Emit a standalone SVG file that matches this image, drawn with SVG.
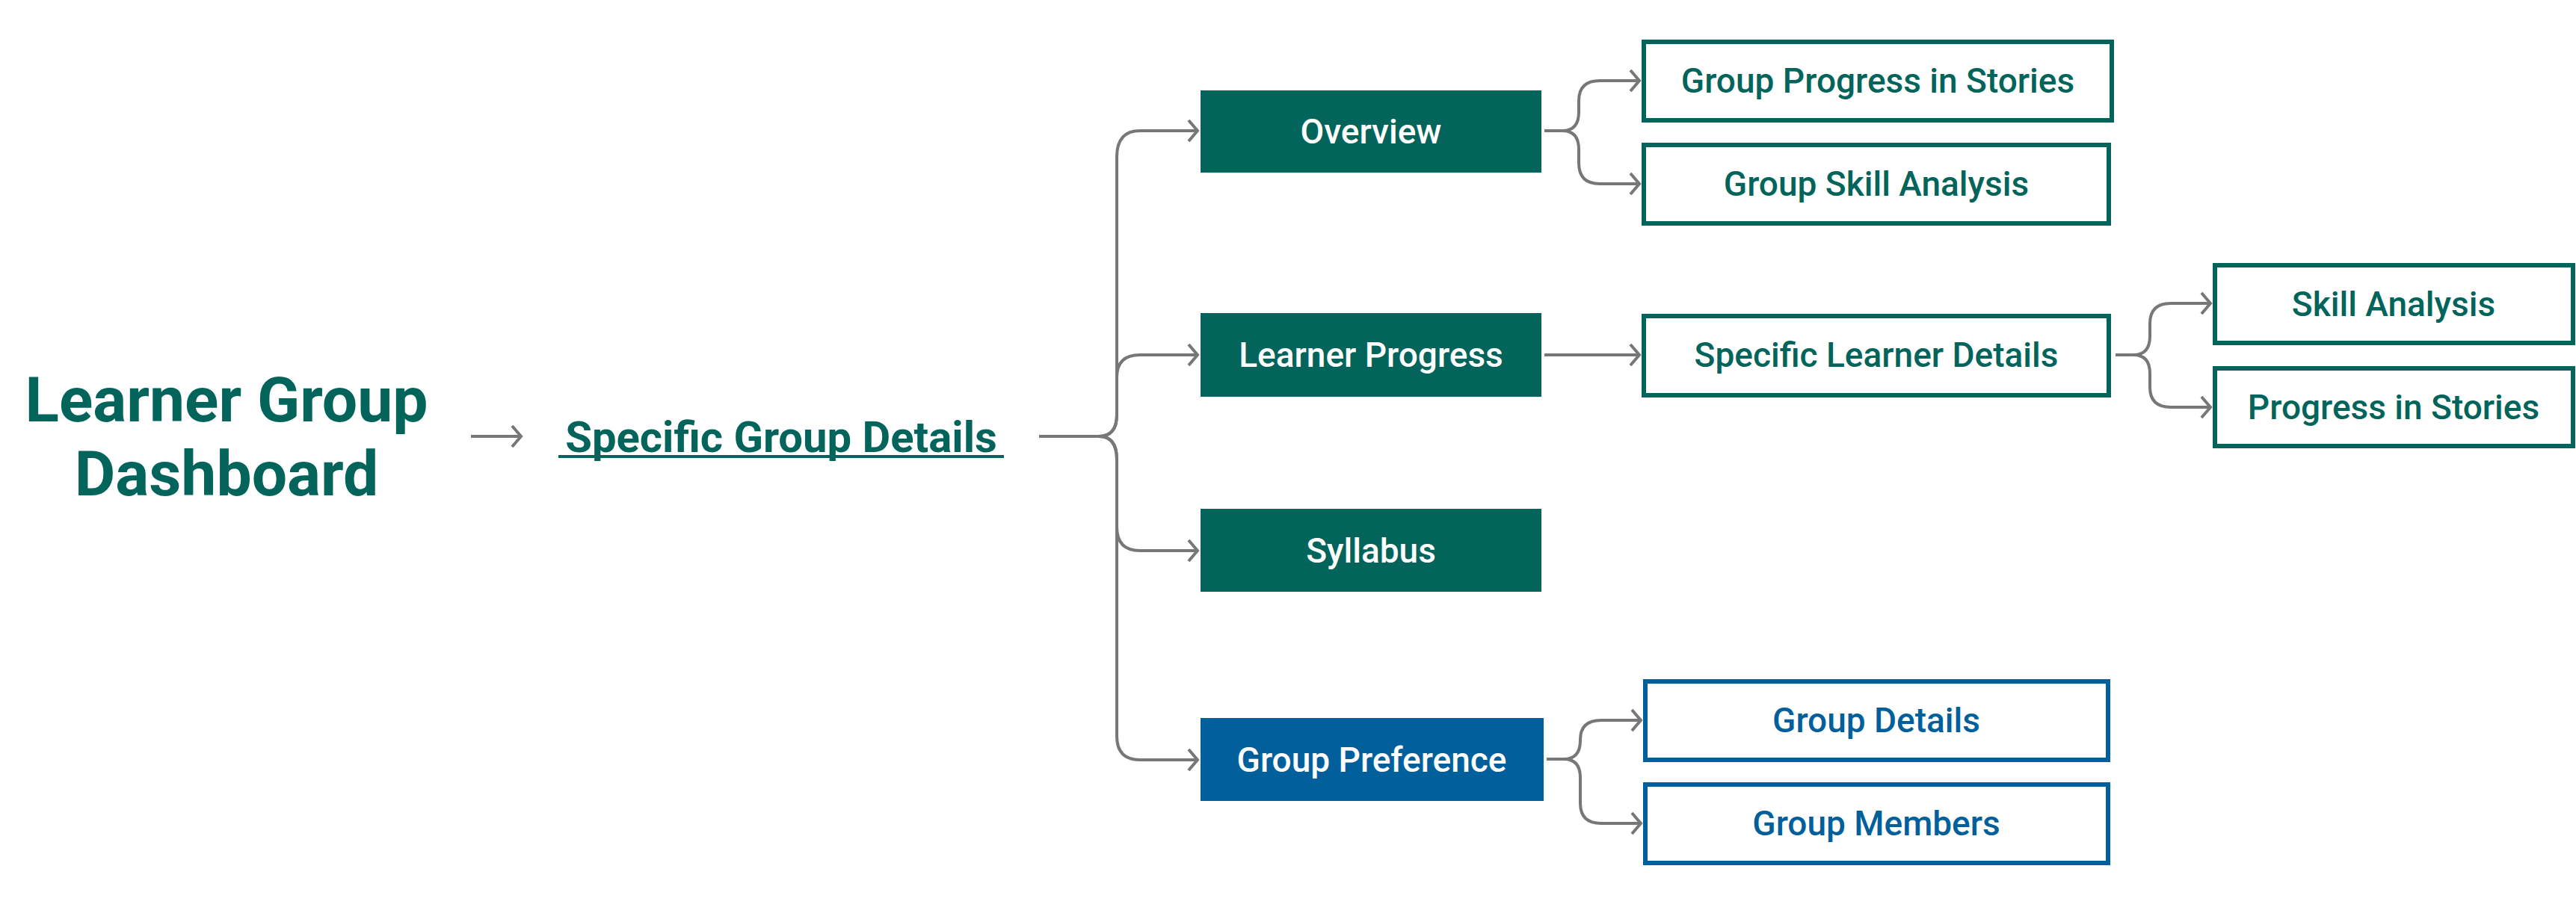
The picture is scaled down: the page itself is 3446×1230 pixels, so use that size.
<svg xmlns="http://www.w3.org/2000/svg" width="3446" height="1230" viewBox="0 0 3446 1230">
<style>
text{font-family:Roboto,"Liberation Sans",sans-serif;font-weight:500;text-anchor:middle}
.g{fill:#02645A}.b{fill:#01609C}
.ob{fill:#fff;stroke:#02645A;stroke-width:6}
.obb{fill:#fff;stroke:#01609C;stroke-width:6}
.w{fill:#fff;font-size:46px}
.gt{fill:#02645A;font-size:46px}
.bt{fill:#01609C;font-size:46px}
.c{fill:none;stroke:#777;stroke-width:4;marker-end:url(#a)}
</style>
<defs><marker id="a" markerWidth="20" markerHeight="40" refX="14" refY="16" viewBox="0 0 20 32" markerUnits="userSpaceOnUse" orient="auto"><path d="M2 2 L14 16 L2 30" fill="none" stroke="#777" stroke-width="4"/></marker></defs>
<g id="title"><text x="303" y="564" style="font-size:84px;font-weight:700" fill="#02645A">Learner Group</text><text x="303" y="663" style="font-size:84px;font-weight:700" fill="#02645A">Dashboard</text></g>
<g id="specific-group"><text x="1045" y="605" style="font-size:58px;font-weight:700" fill="#02645A">Specific Group Details</text><rect x="747" y="609" width="596" height="4" fill="#02645A"/></g>
<g id="overview"><rect class="g" x="1606" y="121" width="456" height="110"/><text class="w" x="1834" y="192">Overview</text></g>
<g id="learner-progress"><rect class="g" x="1606" y="419" width="456" height="112"/><text class="w" x="1834" y="491">Learner Progress</text></g>
<g id="syllabus"><rect class="g" x="1606" y="681" width="456" height="111"/><text class="w" x="1834" y="753">Syllabus</text></g>
<g id="group-preference"><rect class="b" x="1606" y="961" width="459" height="111"/><text class="w" x="1835" y="1033">Group Preference</text></g>
<g id="gpis"><rect class="ob" x="2199" y="56" width="626" height="105"/><text class="gt" x="2512" y="124">Group Progress in Stories</text></g>
<g id="gsa"><rect class="ob" x="2199" y="194" width="622" height="105"/><text class="gt" x="2510" y="262">Group Skill Analysis</text></g>
<g id="sld"><rect class="ob" x="2199" y="423" width="622" height="106"/><text class="gt" x="2510" y="491">Specific Learner Details</text></g>
<g id="sa"><rect class="ob" x="2963" y="355" width="479" height="104"/><text class="gt" x="3202" y="423">Skill Analysis</text></g>
<g id="pis"><rect class="ob" x="2963" y="493" width="479" height="104"/><text class="gt" x="3202" y="561">Progress in Stories</text></g>
<g id="gd"><rect class="obb" x="2201" y="912" width="619" height="105"/><text class="bt" x="2510" y="980">Group Details</text></g>
<g id="gm"><rect class="obb" x="2201" y="1050" width="619" height="105"/><text class="bt" x="2510" y="1118">Group Members</text></g>
<g id="connectors">
<path class="c" d="M630 584 H697"/>
<path class="c" d="M1390 584 H1470 Q1494 584 1494 555 V210 Q1494 175 1525 175 H1602"/>
<path class="c" d="M1390 584 H1470 Q1494 584 1494 555 V505 Q1494 475 1525 475 H1602"/>
<path class="c" d="M1470 584 Q1494 584 1494 615 V705 Q1494 737 1525 737 H1602"/>
<path class="c" d="M1470 584 Q1494 584 1494 615 V985 Q1494 1017 1525 1017 H1602"/>
<path class="c" d="M2066 175 H2090 Q2112 175 2112 150 V135 Q2112 108 2140 108 H2193"/>
<path class="c" d="M2090 175 Q2112 175 2112 200 V218 Q2112 246 2140 246 H2193"/>
<path class="c" d="M2066 475 H2193"/>
<path class="c" d="M2830 475 H2854 Q2876 475 2876 450 V433 Q2876 406 2904 406 H2957"/>
<path class="c" d="M2854 475 Q2876 475 2876 500 V518 Q2876 545 2904 545 H2957"/>
<path class="c" d="M2069 1016 H2092 Q2114 1016 2114 991 V990 Q2114 964 2142 964 H2195"/>
<path class="c" d="M2092 1016 Q2114 1016 2114 1041 V1075 Q2114 1102 2142 1102 H2195"/>
</g>
</svg>
